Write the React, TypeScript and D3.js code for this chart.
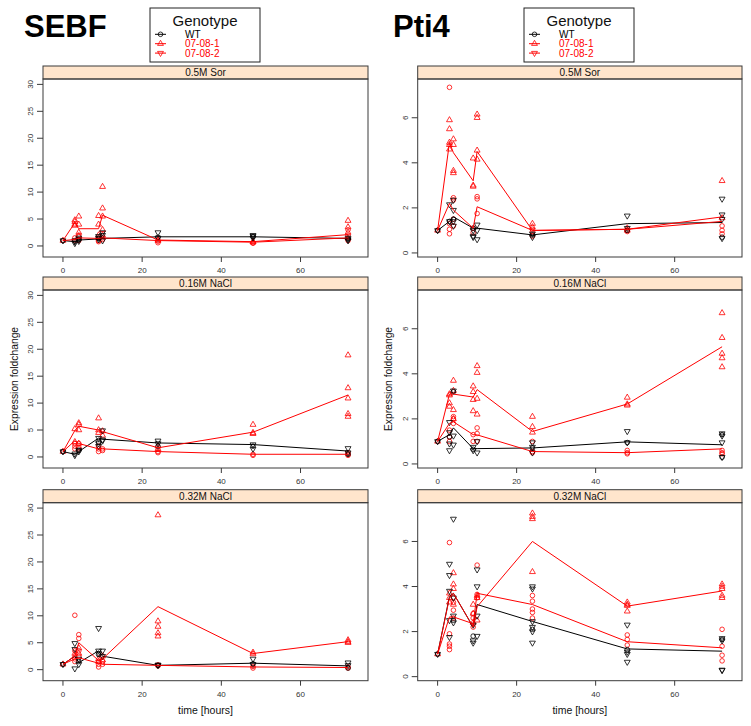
import React from 'react';
import * as d3 from 'd3';

type Pts = [number, number[]][];

const times = [0, 3, 4, 9, 10, 24, 48, 72];
const conditions = ['0.5M Sor', '0.16M NaCl', '0.32M NaCl'];
const genotypes = ['WT', '07-08-1', '07-08-2'];
const genotypeColors = ['#000000', '#ff0000', '#ff0000'];
const genotypeSymbols = ['circle', 'up', 'down'];
const xTicks = [0, 20, 40, 60];
const sebfTicks = [0, 5, 10, 15, 20, 25, 30];
const pti4Ticks = [0, 2, 4, 6];

// SEBF mean lines (WT, 07-08-1, 07-08-2)
const sebfSorWT = [1, 0.8, 1.1, 1.3, 1.4, 1.7, 1.7, 1.4];
const sebfSorL1 = [1, 4.3, 3.2, 3.2, 5.7, 1.1, 0.8, 2.1];
const sebfSorL2 = [1, 1.2, 1.5, 1.4, 1.5, 1.0, 0.7, 1.5];
const sebfNa16WT = [1, 0.5, 1.0, 3.5, 3.3, 2.6, 2.3, 1.1];
const sebfNa16L1 = [1, 4.9, 5.7, 5.0, 4.7, 1.7, 4.6, 11.5];
const sebfNa16L2 = [1, 3.0, 2.5, 1.5, 1.5, 1.0, 0.5, 0.5];
const sebfNa32WT = [1, 2.5, 1.3, 3.5, 2.5, 0.8, 1.2, 0.7];
const sebfNa32L1 = [1, 2.5, 5.0, 1.7, 2.0, 11.7, 3.0, 5.2];
const sebfNa32L2 = [1, 2.0, 2.2, 1.2, 1.0, 0.8, 0.5, 0.4];

// Pti4 mean lines
const pti4SorWT = [1, 1.4, 1.6, 1.1, 1.1, 0.8, 1.3, 1.35];
const pti4SorL1 = [1, 4.9, 4.45, 3.2, 4.5, 1.0, 1.05, 1.4];
const pti4SorL2 = [1, 2.2, 1.9, 1.1, 2.05, 1.0, 1.05, 1.6];
const pti4Na16WT = [1, 1.3, 1.6, 0.68, 0.68, 0.71, 0.98, 0.85];
const pti4Na16L1 = [1, 3.1, 3.1, 2.97, 3.3, 1.44, 2.66, 5.2];
const pti4Na16L2 = [1, 1.8, 1.87, 1.3, 1.29, 0.55, 0.5, 0.67];
const pti4Na32WT = [1, 3.55, 3.7, 2.2, 3.2, 2.45, 1.23, 1.13];
const pti4Na32L1 = [1, 3.5, 3.7, 2.2, 3.1, 6.0, 3.13, 3.8];
const pti4Na32L2 = [1, 2.65, 2.65, 2.35, 3.7, 3.2, 1.55, 1.28];

// SEBF points: red up-triangles, red circles, black down-triangles, black circles
const sebfSorRedTri: Pts = [[0, [1]], [3, [4.0, 4.5, 4.8, 3.8]], [4, [5.5, 4.0, 2.5, 1.8]], [9, [5.6, 4.0, 2.0, 1.5]], [10, [11, 7.0, 5.5, 3.0, 2.0]], [24, [1.0, 1.2]], [48, [0.7, 0.8]], [72, [4.7, 3.5, 2.5, 1.5]]];
const sebfSorRedCirc: Pts = [[3, [1.0, 1.5]], [4, [2.0, 1.0]], [9, [1.0, 0.8]], [10, [1.5, 1.2]], [24, [0.6, 0.9]], [48, [0.5, 0.6]], [72, [1.0, 3.0, 2.0]]];
const sebfSorBlackDown: Pts = [[0, [1]], [3, [0.5, 0.8, 1.0]], [4, [0.9, 1.2, 1.5]], [9, [1.2, 1.5, 1.8]], [10, [1.0, 2.0, 2.5]], [24, [2.5, 1.5]], [48, [1.5, 2.0, 1.8]], [72, [1.0, 1.5, 1.2]]];
const sebfSorBlackCirc: Pts = [[0, [1]], [4, [1.2]], [9, [1.4]], [24, [1.6]], [48, [1.7]], [72, [1.3]]];

const sebfNa16RedTri: Pts = [[0, [1]], [3, [5.2, 2.8]], [4, [6.3, 6.0, 5.0, 2.5]], [9, [7.2, 5.0, 4.5]], [10, [4.8, 4.0]], [24, [1.5, 2.0]], [48, [6.0, 4.5, 4.3]], [72, [18.9, 12.8, 10.9, 8.0, 7.5]]];
const sebfNa16RedCirc: Pts = [[3, [2.5, 2.0, 1.5]], [4, [2.5, 1.8, 1.5]], [9, [1.5, 1.0, 2.0]], [10, [1.5, 1.2]], [24, [0.8, 1.0]], [48, [0.3, 0.5]], [72, [0.3, 0.5, 0.8]]];
const sebfNa16BlackDown: Pts = [[0, [1]], [3, [0.3, 0.6]], [4, [1.0, 1.3]], [9, [3.5, 2.5, 2.0]], [10, [4.9, 3.2, 3.0]], [24, [3.0, 2.5]], [48, [2.3, 1.5]], [72, [1.6, 0.8]]];
const sebfNa16BlackCirc: Pts = [[0, [1]], [4, [1.2]], [9, [2.8]], [24, [2.0]], [48, [2.0]], [72, [0.5]]];

const sebfNa32RedTri: Pts = [[0, [1]], [3, [3.0, 2.5]], [4, [4.0, 3.0]], [9, [2.0, 1.5]], [10, [2.5, 1.8]], [24, [28.7, 9.0, 8.0, 6.8, 6.2]], [48, [3.2, 2.9]], [72, [5.5, 5.2, 5.0]]];
const sebfNa32RedCirc: Pts = [[3, [10.1, 3.5, 2.0, 1.5]], [4, [6.5, 5.8, 3.5, 2.5]], [9, [1.0, 0.5, 1.5]], [10, [1.0, 1.5]], [24, [0.7, 0.9]], [48, [0.3, 0.6]], [72, [0.3, 0.5]]];
const sebfNa32BlackDown: Pts = [[0, [1]], [3, [4.9, 3.8, 0.2]], [4, [2.0, 1.0]], [9, [7.7, 3.5, 3.0]], [10, [3.5, 2.5]], [24, [0.8, 0.9]], [48, [2.0, 1.0]], [72, [1.3, 0.8]]];
const sebfNa32BlackCirc: Pts = [[0, [1]], [4, [1.5]], [9, [2.8]], [24, [0.8]], [48, [1.1]], [72, [0.3]]];

// Pti4 points
const pti4SorRedTri: Pts = [[0, [1]], [3, [5.9, 5.5, 4.9, 4.8, 4.6]], [4, [5.05, 4.8, 3.65, 3.55]], [9, [4.2, 3.0, 2.95]], [10, [6.15, 6.0, 4.55, 4.15]], [24, [1.3, 1.15]], [48, [1.1, 1.0]], [72, [3.2, 1.55]]];
const pti4SorRedCirc: Pts = [[3, [7.35, 1.3, 1.05, 0.85]], [4, [2.45, 2.35, 1.5, 1.2]], [9, [1.1, 0.9]], [10, [2.5, 2.4, 1.75]], [24, [1.05, 0.95, 0.75]], [48, [1.0, 0.95]], [72, [1.2, 1.0, 0.85]]];
const pti4SorBlackDown: Pts = [[0, [1]], [3, [2.15, 1.4]], [4, [2.35, 1.9, 1.4, 1.2]], [9, [0.75, 0.7, 1.0]], [10, [1.25, 1.0, 0.6]], [24, [0.85, 0.7]], [48, [1.65, 1.1]], [72, [2.4, 1.7, 1.5, 0.65]]];
const pti4SorBlackCirc: Pts = [[0, [1]], [3, [1.4]], [4, [1.5]], [9, [1.1]], [24, [0.8]], [48, [1.0]], [72, [0.7]]];

const pti4Na16RedTri: Pts = [[0, [1]], [3, [3.1, 3.05, 2.7, 2.55]], [4, [3.7, 3.25, 2.4, 2.0]], [9, [3.45, 3.2, 2.85, 2.35]], [10, [4.35, 4.05, 2.9, 2.2]], [24, [2.1, 1.65, 1.4]], [48, [2.95, 2.65, 2.6]], [72, [6.7, 5.6, 4.9, 4.7, 4.3]]];
const pti4Na16RedCirc: Pts = [[3, [1.5, 1.0, 1.2]], [4, [2.1, 1.8, 2.0]], [9, [1.3, 1.0]], [10, [1.6, 1.35, 1.0]], [24, [1.0, 0.5, 0.55]], [48, [0.5, 0.45, 0.6]], [72, [0.6, 0.45, 0.5]]];
const pti4Na16BlackDown: Pts = [[0, [1]], [3, [1.85, 1.4, 0.9, 0.6]], [4, [3.25, 1.25, 0.85]], [9, [0.75, 0.6]], [10, [1.0, 0.5]], [24, [0.95, 0.75, 0.5]], [48, [1.45, 0.95]], [72, [1.35, 1.25, 0.95, 0.3]]];
const pti4Na16BlackCirc: Pts = [[0, [1]], [3, [1.2]], [4, [3.2]], [9, [0.65]], [24, [0.7]], [48, [0.95]], [72, [0.3, 1.3]]];

const pti4Na32RedTri: Pts = [[0, [1]], [3, [3.7, 3.5, 3.3]], [4, [4.6, 4.1, 3.9, 3.2]], [9, [3.2, 2.8, 2.4]], [10, [3.6, 3.5, 2.5]], [24, [7.25, 7.1, 7.0, 4.65]], [48, [3.3, 3.2, 3.15, 2.9]], [72, [4.1, 4.0, 3.9, 3.6, 3.5]]];
const pti4Na32RedCirc: Pts = [[3, [5.95, 1.9, 1.45, 1.35, 1.2]], [4, [3.5, 3.3, 2.95, 2.6]], [9, [2.8, 2.6, 2.2]], [10, [4.95, 3.65, 3.5]], [24, [3.6, 3.35, 3.0, 2.85, 2.6]], [48, [1.85, 1.65, 1.4]], [72, [2.1, 1.35, 0.95, 0.7]]];
const pti4Na32BlackDown: Pts = [[0, [1]], [3, [5.0, 4.5, 3.8, 2.5, 1.75]], [4, [7.0, 3.5, 2.7, 2.4]], [9, [2.3, 1.6, 1.5]], [10, [4.75, 4.0, 2.7, 1.8]], [24, [4.0, 3.9, 2.45, 2.2, 2.0, 1.5]], [48, [2.3, 1.1, 1.0, 0.65]], [72, [1.7, 1.6, 0.3, 0.28]]];
const pti4Na32BlackCirc: Pts = [[0, [1]], [4, [2.5]], [9, [1.8]], [24, [2.1]], [48, [1.2]], [72, [1.65]]];

const sebfLines = [
  [sebfSorWT, sebfSorL1, sebfSorL2],
  [sebfNa16WT, sebfNa16L1, sebfNa16L2],
  [sebfNa32WT, sebfNa32L1, sebfNa32L2],
];
const pti4Lines = [
  [pti4SorWT, pti4SorL1, pti4SorL2],
  [pti4Na16WT, pti4Na16L1, pti4Na16L2],
  [pti4Na32WT, pti4Na32L1, pti4Na32L2],
];
const sebfPoints = [
  [sebfSorRedTri, sebfSorRedCirc, sebfSorBlackDown, sebfSorBlackCirc],
  [sebfNa16RedTri, sebfNa16RedCirc, sebfNa16BlackDown, sebfNa16BlackCirc],
  [sebfNa32RedTri, sebfNa32RedCirc, sebfNa32BlackDown, sebfNa32BlackCirc],
];
const pti4Points = [
  [pti4SorRedTri, pti4SorRedCirc, pti4SorBlackDown, pti4SorBlackCirc],
  [pti4Na16RedTri, pti4Na16RedCirc, pti4Na16BlackDown, pti4Na16BlackCirc],
  [pti4Na32RedTri, pti4Na32RedCirc, pti4Na32BlackDown, pti4Na32BlackCirc],
];
const pointStyles = [
  { sym: 'up', color: '#ff0000' },
  { sym: 'circle', color: '#ff0000' },
  { sym: 'down', color: '#000000' },
  { sym: 'circle', color: '#000000' },
];

const FONT = 'Liberation Sans, Arial, Helvetica, sans-serif';
const BORDER = '#3a3a3a';
const triPath = d3.symbol(d3.symbolTriangle, 15)() as string;

function Symbol({ x, y, sym, color }: { x: number; y: number; sym: string; color: string }) {
  if (sym === 'circle') {
    return <circle cx={x} cy={y} r={2.3} fill="none" stroke={color} strokeWidth={0.8} />;
  }
  const rot = sym === 'down' ? 180 : 0;
  return (
    <path d={triPath} transform={`translate(${x},${y}) rotate(${rot})`} fill="none" stroke={color} strokeWidth={0.8} />
  );
}

const rowTops = [79, 290, 502.7];
const panelH = 178;
const stripH = 13;

function Column({ left, right, yDomain, yTicks, lines, points }: any) {
  const x = d3.scaleLinear().domain([-5.04, 77.04]).range([left, right]);
  const line = d3.line<number>().x((_, i) => x(times[i]));
  return (
    <g>
      {conditions.map((cond, r) => {
        const top = rowTops[r];
        const bottom = top + panelH;
        const y = d3.scaleLinear().domain(yDomain).range([bottom, top]);
        line.y((d) => y(d));
        return (
          <g key={cond}>
            <rect x={left} y={top - stripH} width={right - left} height={stripH} fill="#ffe5cc" stroke={BORDER} strokeWidth={1} />
            <text x={(left + right) / 2} y={top - 3} textAnchor="middle" fontSize={10} fontFamily={FONT} fill="#111">{cond}</text>
            {yTicks.map((t: number) => (
              <g key={t}>
                <line x1={left - 6} x2={left} y1={y(t)} y2={y(t)} stroke={BORDER} />
                <text transform={`translate(${left - 13},${y(t)}) rotate(-90)`} textAnchor="middle" dy="0.35em" fontSize={8} fontFamily={FONT} fill="#333">{t}</text>
              </g>
            ))}
            {xTicks.map((t) => (
              <g key={t}>
                <line x1={x(t)} x2={x(t)} y1={bottom} y2={bottom + 5} stroke={BORDER} />
                <text x={x(t)} y={bottom + 16} textAnchor="middle" fontSize={8} fontFamily={FONT} fill="#333">{t}</text>
              </g>
            ))}
            <g>
              {points[r].map((grp: Pts, gi: number) =>
                grp.flatMap(([t, vals], ti) =>
                  vals.map((v, vi) => (
                    <Symbol key={`${gi}-${ti}-${vi}`} x={x(t)} y={y(v)} sym={pointStyles[gi].sym} color={pointStyles[gi].color} />
                  ))
                )
              )}
            </g>
            {lines[r].map((ln: number[], gi: number) => (
              <path key={gi} d={line(ln) as string} fill="none" stroke={genotypeColors[gi]} strokeWidth={1} />
            ))}
            <rect x={left} y={top} width={right - left} height={panelH} fill="none" stroke={BORDER} strokeWidth={1} />
          </g>
        );
      })}
      <text transform={`translate(${left - 29},${rowTops[1] + panelH / 2}) rotate(-90)`} textAnchor="middle" dy="0.35em" fontSize={10.3} fontFamily={FONT} fill="#111">Expression foldchange</text>
      <text x={(left + right) / 2} y={714} textAnchor="middle" fontSize={10.5} fontFamily={FONT} fill="#111">time [hours]</text>
    </g>
  );
}

function Legend({ left }: { left: number }) {
  return (
    <g>
      <rect x={left} y={8} width={110} height={54} fill="white" stroke="#222" strokeWidth={1} />
      <text x={left + 55} y={25.5} textAnchor="middle" fontSize={15} fontFamily={FONT} fill="#111">Genotype</text>
      {genotypes.map((g, i) => {
        const yy = 34.3 + i * 9.4;
        return (
          <g key={g}>
            <line x1={left + 5} x2={left + 16} y1={yy} y2={yy} stroke={genotypeColors[i]} strokeWidth={1} />
            <Symbol x={left + 10.5} y={yy} sym={genotypeSymbols[i]} color={genotypeColors[i]} />
            <text x={left + 35} y={yy + 3.4} fontSize={10} fontFamily={FONT} fill={genotypeColors[i]}>{g}</text>
          </g>
        );
      })}
    </g>
  );
}

export default function App() {
  return (
    <svg width={751} height={726} style={{ position: 'absolute', left: 0, top: 0, background: 'white' }}>
      <rect width={751} height={726} fill="white" />
      <text x={24} y={37} fontSize={31} fontWeight="bold" fontFamily={FONT} fill="#000">SEBF</text>
      <text x={393} y={37} fontSize={31} fontWeight="bold" fontFamily={FONT} fill="#000">Pti4</text>
      <Column left={43} right={368} yDomain={[-2.05, 31.0]} yTicks={sebfTicks} lines={sebfLines} points={sebfPoints} />
      <Column left={417.7} right={742} yDomain={[-0.18, 7.72]} yTicks={pti4Ticks} lines={pti4Lines} points={pti4Points} />
      <Legend left={150} />
      <Legend left={524} />
    </svg>
  );
}
